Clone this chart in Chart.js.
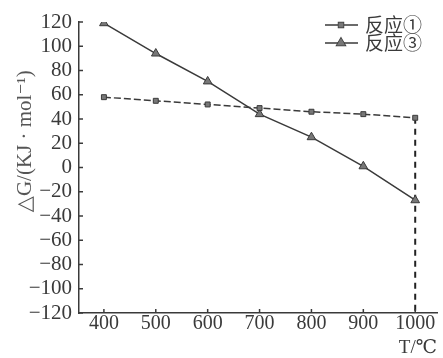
<!DOCTYPE html>
<html>
<head>
<meta charset="utf-8">
<script src="https://cdn.jsdelivr.net/npm/chart.js@4/dist/chart.umd.min.js"></script>
<style>
    body { margin: 0; background: #fff; }
    #wrap { width: 443px; height: 358px; position: relative; }
</style>
</head>
<body>
<div id="wrap"><canvas id="result-chart" width="443" height="358"></canvas></div>
<script>
let temperatures = [400, 500, 600, 700, 800, 900, 1000];
let reaction1 = [58, 55, 52, 49, 46, 44, 41];
let reaction3 = [119, 94, 71, 44, 25, 1, -27];
let xTicks = [400, 500, 600, 700, 800, 900, 1000];
let yTicks = [-120, -100, -80, -60, -40, -20, 0, 20, 40, 60, 80, 100, 120];
let seriesNames = ['反应①', '反应③'];
let yTitle = '\u2003\u2003\u2002△G/(KJ · mol⁻¹)';
let xTitle = 'T/℃';

let ink = '#3a3a3a';
let serif = "'Liberation Serif', 'DejaVu Serif', serif";

function toPoints(xs, ys) {
    return xs.map(function(x, i) { return { x: x, y: ys[i] }; });
}

let lastT = temperatures[temperatures.length - 1];
let dropLine = [
    { x: lastT, y: reaction1[reaction1.length - 1] },
    { x: lastT, y: yTicks[0] }
];

// short tick marks drawn inside the axes, like the printed figure
let innerTicks = {
    id: 'innerTicks',
    afterDraw: function(chart) {
        let ctx = chart.ctx;
        let x = chart.scales.x;
        let y = chart.scales.y;
        let area = chart.chartArea;
        ctx.save();
        ctx.strokeStyle = ink;
        ctx.lineWidth = 1.5;
        yTicks.forEach(function(v) {
            let py = y.getPixelForValue(v);
            ctx.beginPath();
            ctx.moveTo(area.left, py);
            ctx.lineTo(area.left + 4, py);
            ctx.stroke();
        });
        xTicks.forEach(function(v) {
            let px = x.getPixelForValue(v);
            ctx.beginPath();
            ctx.moveTo(px, area.bottom);
            ctx.lineTo(px, area.bottom - 4);
            ctx.stroke();
        });
        ctx.restore();
    }
};

// legend with line sample + marker, top right
let lineLegend = {
    id: 'lineLegend',
    afterDraw: function(chart) {
        let ctx = chart.ctx;
        ctx.save();
        chart.data.datasets.forEach(function(ds, i) {
            if (!ds.label) return;
            let rowY = 25 + i * 18;
            ctx.strokeStyle = ds.borderColor;
            ctx.lineWidth = 1.5;
            ctx.setLineDash([]);
            ctx.beginPath();
            ctx.moveTo(325, rowY);
            ctx.lineTo(358, rowY);
            ctx.stroke();
            Chart.helpers.drawPoint(ctx, {
                pointStyle: ds.pointStyle,
                radius: ds.pointRadius,
                borderWidth: 1
            }, 341, rowY);
            ctx.fillStyle = ds.pointBackgroundColor;
            ctx.fill();
            ctx.fillStyle = ink;
            ctx.font = "19px 'Noto Sans CJK SC'";
            ctx.textBaseline = 'middle';
            ctx.fillText(ds.label, 365, rowY);
        });
        ctx.restore();
    }
};

function createChart() {
    let ctx = document.getElementById('result-chart').getContext('2d');
    window.resultChart = new Chart(ctx, {
        type: 'scatter',
        data: {
            datasets: [{
                label: seriesNames[0],
                data: toPoints(temperatures, reaction1),
                showLine: true,
                borderColor: ink,
                borderWidth: 1.5,
                borderDash: [7, 3],
                pointStyle: 'rect',
                pointRadius: 3.5,
                pointBackgroundColor: '#777',
                pointBorderColor: ink,
                pointBorderWidth: 1
            }, {
                label: seriesNames[1],
                data: toPoints(temperatures, reaction3),
                showLine: true,
                borderColor: ink,
                borderWidth: 1.5,
                pointStyle: 'triangle',
                pointRadius: 5,
                pointBackgroundColor: '#777',
                pointBorderColor: ink,
                pointBorderWidth: 1
            }, {
                label: '',
                data: dropLine,
                showLine: true,
                borderColor: '#222',
                borderWidth: 2,
                borderDash: [6, 5],
                pointRadius: 0
            }]
        },
        options: {
            responsive: false,
            animation: false,
            layout: { padding: { top: 22, right: 2, left: 0, bottom: 0 } },
            scales: {
                x: {
                    type: 'linear',
                    min: 352,
                    max: 1042,
                    afterBuildTicks: function(scale) {
                        scale.ticks = xTicks.map(function(v) { return { value: v }; });
                    },
                    afterFit: function(scale) { scale.height = 45; },
                    grid: { display: false, drawTicks: false },
                    border: { color: ink, width: 1.5 },
                    ticks: {
                        color: ink,
                        padding: 1,
                        maxRotation: 0,
                        callback: function(value) { return String(value); },
                        font: { family: serif, size: 20, lineHeight: 1 }
                    },
                    title: {
                        display: true,
                        text: xTitle,
                        align: 'end',
                        color: ink,
                        padding: 0,
                        font: { family: serif, size: 19, lineHeight: 1 }
                    }
                },
                y: {
                    min: -120,
                    max: 120,
                    afterBuildTicks: function(scale) {
                        scale.ticks = yTicks.map(function(v) { return { value: v }; });
                    },
                    afterFit: function(scale) { scale.width = 79; },
                    grid: { display: false, drawTicks: false },
                    border: { color: ink, width: 1.5 },
                    ticks: {
                        color: ink,
                        padding: 7,
                        callback: function(value) { return String(value).replace('-', '−'); },
                        font: { family: serif, size: 21, lineHeight: 1 }
                    },
                    title: {
                        display: true,
                        text: yTitle,
                        color: '#555',
                        padding: { top: 13, bottom: 0 },
                        font: { family: serif, size: 21, lineHeight: 1.2 }
                    }
                }
            },
            plugins: {
                legend: { display: false },
                tooltip: { enabled: false }
            }
        },
        plugins: [innerTicks, lineLegend]
    });
}

document.addEventListener("DOMContentLoaded", function() {
    createChart();
});
</script>
</body>
</html>
